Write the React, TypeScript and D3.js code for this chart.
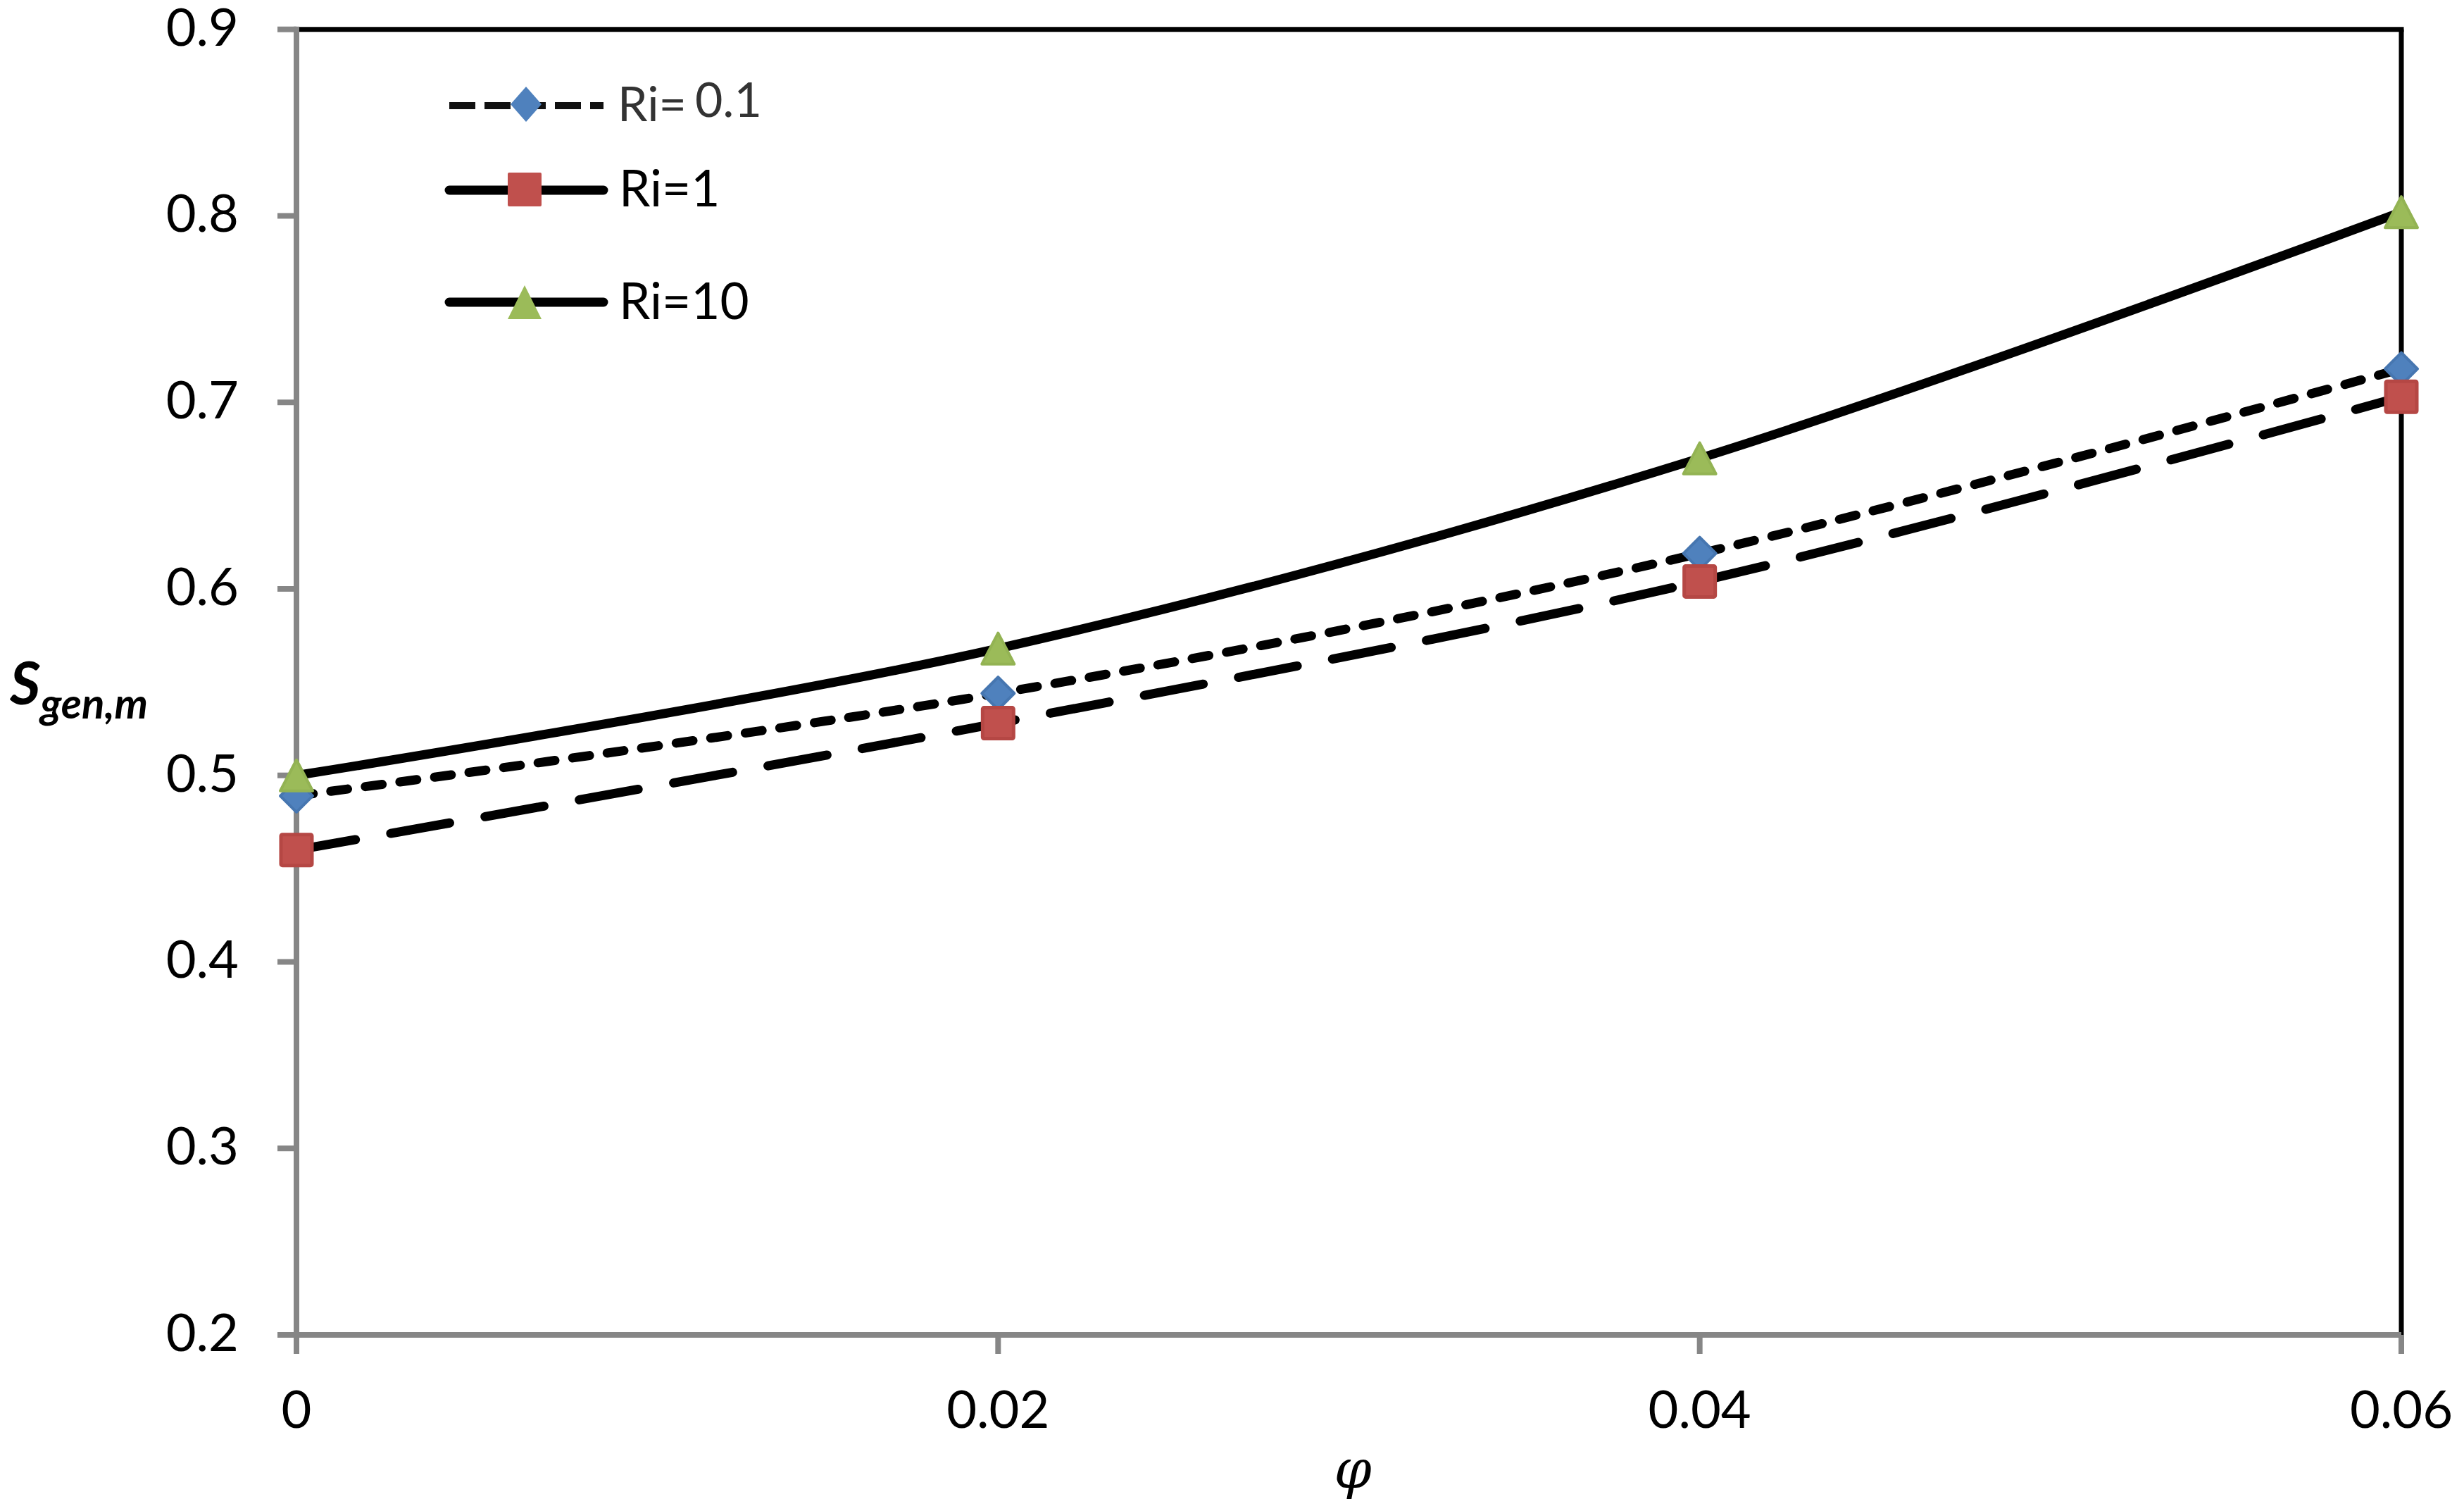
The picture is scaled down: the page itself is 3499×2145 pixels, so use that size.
import React from "react";
import * as d3 from "d3";

const phi = [0, 0.02, 0.04, 0.06];
const ri01 = [0.489, 0.544, 0.619, 0.718];
const ri1 = [0.46, 0.528, 0.604, 0.703];
const ri10 = [0.5, 0.568, 0.67, 0.802];
const xTicks = [0, 0.02, 0.04, 0.06];
const xTickLabels = ["0", "0.02", "0.04", "0.06"];
const yTicks = [0.2, 0.3, 0.4, 0.5, 0.6, 0.7, 0.8, 0.9];
const yTickLabels = ["0.2", "0.3", "0.4", "0.5", "0.6", "0.7", "0.8", "0.9"];
const seriesNames = ["Ri= 0.1", "Ri=1", "Ri=10"];

const W = 3499;
const H = 2145;
const X0 = 421, X1 = 3410, Y0 = 1895, Y1 = 41.7;
const FONT = "Lato, 'Open Sans', sans-serif";
const AXIS = "#868686";

const BLUE = "#4F81BD", BLUE_S = "#4676B0";
const RED = "#C0504D", RED_S = "#B54744";
const GREEN = "#9BBB59", GREEN_S = "#93B353";

export default function App() {
  const x = d3.scaleLinear().domain([0, 0.06]).range([X0, X1]);
  const y = d3.scaleLinear().domain([0.2, 0.9]).range([Y0, Y1]);
  const line = d3
    .line<[number, number]>()
    .x((d) => x(d[0]))
    .y((d) => y(d[1]))
    .curve(d3.curveCardinal.tension(0));

  const pts = (vals: number[]) => phi.map((p, i) => [p, vals[i]] as [number, number]);

  const diamond = (cx: number, cy: number, w: number, h: number) =>
    `M${cx},${cy - h / 2}L${cx + w / 2},${cy}L${cx},${cy + h / 2}L${cx - w / 2},${cy}Z`;
  const tri = (cx: number, cy: number, w: number, h: number) =>
    `M${cx},${cy - h / 2}L${cx + w / 2},${cy + h / 2}L${cx - w / 2},${cy + h / 2}Z`;

  const MS = 44;

  return (
    <svg
      width={W}
      height={H}
      style={{ position: "absolute", left: 0, top: 0, display: "block", background: "#fff" }}
    >
      <rect x={0} y={0} width={W} height={H} fill="#fff" />
      {/* plot border top/right */}
      <line x1={X0} x2={X1 + 3.5} y1={Y1} y2={Y1} stroke="#000" strokeWidth={7} />
      <line x1={X1} x2={X1} y1={Y1} y2={Y0} stroke="#000" strokeWidth={7} />
      {/* axes */}
      <line x1={X0} x2={X0} y1={Y1 - 4} y2={Y0 + 27} stroke={AXIS} strokeWidth={8} />
      <line x1={X0 - 27} x2={X1} y1={Y0} y2={Y0} stroke={AXIS} strokeWidth={8} />
      {yTicks.map((t, i) => (
        <g key={"yt" + i}>
          <line x1={X0 - 27} x2={X0} y1={y(t)} y2={y(t)} stroke={AXIS} strokeWidth={8} />
          <text x={339} y={y(t) + 23} textAnchor="end" fontFamily={FONT} fontSize={74} fill="#000">
            {yTickLabels[i]}
          </text>
        </g>
      ))}
      {xTicks.map((t, i) => (
        <g key={"xt" + i}>
          <line x1={x(t)} x2={x(t)} y1={Y0} y2={Y0 + 27} stroke={AXIS} strokeWidth={8} />
          <text x={x(t)} y={2027} textAnchor="middle" fontFamily={FONT} fontSize={74} fill="#000">
            {xTickLabels[i]}
          </text>
        </g>
      ))}

      {/* series lines */}
      <path
        d={line(pts(ri10)) || ""}
        fill="none"
        stroke="#000"
        strokeWidth={13}
        strokeLinecap="round"
      />
      <path
        d={line(pts(ri01)) || ""}
        fill="none"
        stroke="#000"
        strokeWidth={13}
        strokeLinecap="round"
        strokeDasharray="24 25.5"
      />
      <path
        d={line(pts(ri1)) || ""}
        fill="none"
        stroke="#000"
        strokeWidth={13}
        strokeLinecap="round"
        strokeDasharray="85 51"
      />

      {/* markers */}
      {phi.map((p, i) => (
        <path
          key={"d" + i}
          d={diamond(x(p), y(ri01[i]), MS + 2, MS + 2)}
          fill={BLUE}
          stroke={BLUE_S}
          strokeWidth={4}
          strokeLinejoin="round"
        />
      ))}
      {phi.map((p, i) => (
        <rect
          key={"s" + i}
          x={x(p) - MS / 2}
          y={y(ri1[i]) - MS / 2}
          width={MS}
          height={MS}
          rx={2}
          fill={RED}
          stroke={RED_S}
          strokeWidth={5}
        />
      ))}
      {phi.map((p, i) => (
        <path
          key={"t" + i}
          d={tri(x(p), y(ri10[i]), MS + 2, MS)}
          fill={GREEN}
          stroke={GREEN_S}
          strokeWidth={4}
          strokeLinejoin="round"
        />
      ))}

      {/* legend */}
      <line x1={638} x2={857} y1={150} y2={150} stroke="#111" strokeWidth={10} strokeDasharray="37 13" />
      <path d={diamond(747, 148, 44, 50)} fill={BLUE} />
      <text x={877} y={172} fontFamily={FONT} fontSize={68} fill="#333">
        Ri=
        <tspan dx={12} dy={-6}>0.1</tspan>
      </text>

      <line x1={638} x2={857} y1={270} y2={270} stroke="#000" strokeWidth={13} strokeLinecap="round" />
      <rect x={721} y={245} width={48} height={48} rx={2} fill={RED} stroke="#fff" strokeWidth={0} />
      <text x={879} y={293} fontFamily={FONT} fontSize={71} fill="#000">
        {seriesNames[1]}
      </text>

      <line x1={638} x2={857} y1={429} y2={429} stroke="#000" strokeWidth={13} strokeLinecap="round" />
      <path d={tri(745, 429, 48, 48)} fill={GREEN} />
      <text x={879} y={453} fontFamily={FONT} fontSize={71} fill="#000">
        {seriesNames[2]}
      </text>

      {/* axis titles */}
      <text x={14} y={1000} fontFamily={FONT} fontWeight="bold" fontStyle="italic" fontSize={84} fill="#000">
        S
        <tspan fontSize={60} dy={20}>gen,m</tspan>
      </text>
      <text
        x={1921}
        y={2112}
        textAnchor="middle"
        fontFamily="'DejaVu Serif', 'Liberation Serif', serif"
        fontStyle="italic"
        fontSize={76}
        fill="#000"
      >
        φ
      </text>
    </svg>
  );
}
